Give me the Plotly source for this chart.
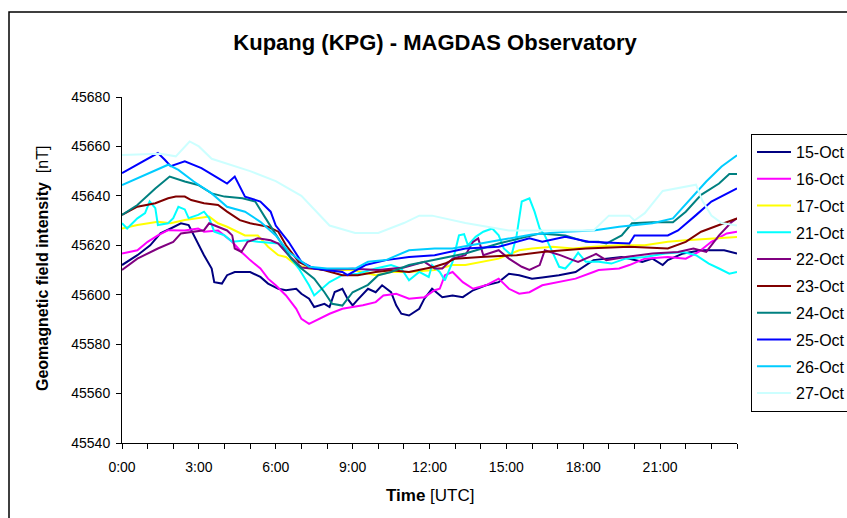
import plotly.graph_objects as go

# Hour-of-day (UTC) and total field (nT) for each observation day
t_15 = [0, 0.6, 1.1, 1.5, 1.9, 2.3, 2.6, 2.8, 3.0, 3.2, 3.5, 3.6, 3.9, 4.1, 4.4, 5.0, 5.4, 5.7, 6.1, 6.4,
        6.8, 7.0, 7.3, 7.5, 7.9, 8.1, 8.3, 8.6, 8.8, 9.0, 9.2, 9.6, 9.9, 10.15, 10.5, 10.7, 10.9, 11.2, 11.6,
        11.8, 12.1, 12.5, 12.9, 13.3, 13.7, 14.2, 14.7, 15.1, 15.5, 16.0, 16.4, 17.05, 17.7, 18.1, 18.4,
        18.9, 19.5, 20.3, 20.7, 21.1, 21.3, 21.9, 22.6, 23.5, 24]
v_15 = [45612, 45616, 45620, 45624.8, 45626.8, 45628.9, 45628.2, 45624, 45620, 45616, 45610.6, 45605.1,
        45604.5, 45607.9, 45609.2, 45609.2, 45607.2, 45604.5, 45602.4, 45601.8, 45602.4, 45600.4, 45598.4,
        45595, 45596.3, 45595, 45601.1, 45602.4, 45598.4, 45595.7, 45598, 45602.4, 45601, 45603.8, 45601,
        45595.7, 45592.3, 45591.6, 45594.3, 45598.4, 45602.4, 45599, 45599.7, 45599, 45601.8, 45603.8,
        45605.1, 45608.5, 45607.9, 45606.5, 45607, 45607.9, 45609.2, 45612, 45614, 45614.6, 45615.3,
        45613.3, 45614.6, 45612, 45614, 45616.7, 45618, 45618, 45616.7]

t_16 = [0, 0.6, 1.0, 1.4, 1.8, 2.45, 2.97, 3.2, 3.75, 4.3, 4.66, 5.0, 5.4, 5.7, 6.0, 6.4, 6.8, 7.0, 7.3,
        7.7, 8.1, 8.6, 9.4, 9.9, 10.2, 10.7, 11.2, 11.8, 12.2, 12.4, 12.6, 12.9, 13.3, 13.7, 14.2, 14.7,
        15.1, 15.5, 15.9, 16.4, 17.05, 17.7, 18.4, 18.6, 19.4, 19.8, 20.4, 21.3, 22.0, 22.5, 23.0, 23.6, 24]
v_16 = [45616.7, 45618, 45621.4, 45624, 45626.1, 45626, 45626.8, 45625.5, 45626, 45621.4, 45617.3, 45614,
        45610.6, 45606.5, 45603.8, 45599.7, 45594.3, 45590.2, 45588.2, 45590.2, 45592.3, 45594.3, 45595.7,
        45597, 45599.7, 45600.4, 45598.4, 45599, 45601.8, 45602.4, 45607.9, 45609.2, 45605.1, 45602.4,
        45603.8, 45606.5, 45602.4, 45600.4, 45601, 45603.8, 45605.1, 45606.5, 45609.2, 45610, 45610.6,
        45612, 45614.6, 45615.3, 45614.6, 45617.3, 45621.4, 45624.8, 45625.5]

t_17 = [0, 0.6, 1.4, 1.9, 2.45, 2.97, 3.4, 3.75, 4.1, 4.8, 5.3, 5.7, 6.1, 6.4, 6.8, 7.3, 8.0, 9.0, 9.9,
        10.5, 11.2, 12.2, 12.9, 13.4, 14.1, 14.7, 15.5, 16.0, 16.8, 17.6, 18.4, 19.4, 20.4, 21.3, 22.0,
        23.3, 24]
v_17 = [45626.8, 45628.2, 45629.5, 45628.9, 45630.2, 45630.9, 45631.6, 45628.9, 45627.5, 45624, 45624,
        45619.4, 45616, 45615.3, 45612, 45610.6, 45610, 45610, 45607.9, 45609.2, 45609.2, 45610, 45612,
        45612, 45613.3, 45614.6, 45618, 45618.7, 45619.4, 45618.7, 45619.4, 45620, 45620, 45621.4, 45622,
        45622.8, 45623.4]

t_21 = [0, 0.2, 0.6, 0.9, 1.08, 1.3, 1.4, 1.8, 2.0, 2.2, 2.45, 2.6, 2.97, 3.2, 3.4, 3.6, 4.0, 4.3, 4.9,
        5.3, 6.1, 6.4, 6.9, 7.3, 7.5, 7.8, 8.1, 8.6, 9.2, 9.9, 10.5, 10.9, 11.2, 11.6, 11.97, 12.1, 12.4,
        12.6, 12.9, 13.15, 13.35, 13.5, 13.8, 14.1, 14.45, 14.7, 14.9, 15.2, 15.4, 15.6, 15.9, 16.1, 16.3,
        16.5, 16.8, 17.06, 17.3, 17.6, 17.8, 18.1, 18.6, 19.1, 19.65, 20.4, 21.2, 21.9, 22.4, 22.9, 23.3,
        23.7, 24]
v_21 = [45628.9, 45626.8, 45630.9, 45633, 45637.7, 45635, 45628.2, 45628.9, 45631, 45635.6, 45634.5,
        45631, 45632.3, 45633.6, 45631, 45625.5, 45624, 45621.4, 45622, 45621.4, 45620.7, 45617.3, 45610.6,
        45603.8, 45599.7, 45602.4, 45605.1, 45607.9, 45608.5, 45610.6, 45612, 45610.6, 45605.8, 45609.2,
        45607.2, 45612, 45609.2, 45605.8, 45613.3, 45624, 45624.5, 45620, 45623.4, 45625.5, 45626.8, 45624,
        45618.7, 45616, 45624, 45637.7, 45639, 45633.6, 45626.8, 45624, 45617.3, 45611.3, 45610.6, 45614,
        45617, 45613.3, 45613.3, 45612.6, 45614.6, 45615.3, 45616.7, 45617.3, 45616, 45612.6, 45610.6,
        45608.5, 45609.2]

t_22 = [0, 0.6, 1.4, 2.0, 2.3, 2.7, 3.2, 3.4, 3.75, 4.1, 4.3, 4.4, 4.66, 4.9, 5.3, 5.8, 6.1, 6.5, 7.0,
        8.0, 9.0, 10.0, 11.0, 11.8, 12.2, 12.5, 12.9, 13.4, 13.7, 13.9, 14.1, 14.7, 15.1, 15.6, 15.9, 16.3,
        16.5, 17.1, 17.6, 17.8, 18.4, 18.5, 18.9, 19.65, 20.7, 21.7, 22.3, 22.8, 23.3, 23.8, 24]
v_22 = [45610, 45614.6, 45618.7, 45621.4, 45624.8, 45625.5, 45626.1, 45628.9, 45627.5, 45626, 45624,
        45618.7, 45617.3, 45621.4, 45622.8, 45622, 45620.7, 45616, 45611, 45610, 45610.5, 45610, 45611,
        45613.3, 45610.6, 45610.6, 45614.6, 45616, 45621.4, 45622.8, 45616, 45618, 45614.6, 45611.3, 45610,
        45612, 45618, 45616, 45614, 45613.3, 45616, 45616.5, 45614, 45615.3, 45616.7, 45617.3, 45618.7,
        45617.3, 45624, 45629.5, 45630.9]

t_23 = [0, 0.6, 1.3, 1.8, 2.1, 2.45, 2.7, 3.2, 3.75, 4.1, 4.6, 5.0, 5.7, 6.1, 6.4, 6.9, 7.3, 7.9, 8.6,
        9.2, 9.9, 10.5, 11.2, 12.2, 12.6, 13.0, 14.0, 15.4, 16.4, 17.3, 18.1, 19.8, 21.3, 22.0, 22.6, 23.3,
        24]
v_23 = [45632.3, 45635.6, 45637, 45639, 45639.7, 45639.7, 45638.3, 45637, 45636.3, 45633.6, 45630.2,
        45628.9, 45627.5, 45625.5, 45620, 45613.3, 45611.3, 45609.9, 45607.9, 45607.9, 45609.2, 45609.9,
        45609.2, 45611.3, 45612.6, 45614.6, 45615.3, 45616, 45617.3, 45618, 45618.7, 45619.4, 45618.7,
        45621.4, 45625.5, 45628.2, 45630.9]

t_24 = [0, 0.6, 1.3, 1.86, 2.45, 2.97, 3.5, 4.0, 4.7, 5.2, 5.6, 6.1, 6.2, 6.6, 7.0, 7.5, 7.9, 8.2, 8.6,
        9.0, 9.4, 9.6, 10.0, 10.5, 11.2, 12.2, 13.4, 14.7, 16.3, 17.3, 18.1, 18.6, 18.9, 19.5, 19.9, 20.7,
        21.5, 22.0, 22.6, 23.3, 23.7, 24]
v_24 = [45632.3, 45636.3, 45643, 45647.8, 45645.8, 45644.4, 45641, 45639.7, 45639, 45637.7, 45631,
        45622.8, 45621.4, 45614.6, 45610.6, 45606.5, 45601, 45596.3, 45595.6, 45601, 45603, 45604, 45607.9,
        45609.2, 45612, 45614, 45616.7, 45620.7, 45624.8, 45624, 45621.4, 45621.4, 45620.7, 45624, 45628.9,
        45629.3, 45629.3, 45633.6, 45640.4, 45645, 45648.8, 45648.8]

t_25 = [0, 1.4, 1.67, 1.9, 2.45, 3.1, 3.75, 4.1, 4.4, 4.8, 5.4, 5.8, 6.0, 6.5, 7.0, 7.5, 8.6, 8.8, 9.5,
        10.3, 11.2, 12.2, 13.4, 14.7, 15.9, 16.4, 17.3, 18.2, 19.8, 20.0, 21.3, 21.7, 22.4, 23.0, 24]
v_25 = [45649.2, 45657.3, 45654.6, 45652, 45654, 45651.2, 45647.2, 45645, 45647.8, 45639.7, 45637.7,
        45633.6, 45628, 45621.4, 45613.3, 45610.6, 45609.2, 45607.9, 45612, 45614, 45615.3, 45616, 45618.7,
        45619.4, 45622.8, 45621.4, 45623.4, 45621.4, 45620.7, 45624, 45624, 45626, 45632.2, 45637.7, 45643]

t_26 = [0, 1.8, 2.2, 2.8, 3.5, 4.1, 4.8, 5.4, 6.0, 6.5, 7.3, 8.0, 9.1, 9.6, 10.3, 11.2, 12.2, 12.9, 14.7,
        16.0, 17.3, 18.4, 19.4, 20.7, 21.5, 22.1, 22.8, 23.4, 24]
v_26 = [45644.4, 45652.6, 45650.5, 45645.8, 45641, 45635.6, 45633.6, 45629.5, 45624, 45617.3, 45611.3,
        45610.6, 45610.6, 45613.3, 45614, 45618, 45618.7, 45618.7, 45622, 45624.4, 45625.5, 45626, 45627.5,
        45628.9, 45630.9, 45637.7, 45645.8, 45651.9, 45656.4]

t_27 = [0, 1.5, 2.1, 2.64, 3.0, 3.5, 5.0, 6.0, 7.0, 8.1, 9.1, 10.0, 11.0, 11.6, 12.1, 13.4, 15.1, 17.6,
        18.4, 19.0, 19.8, 20.0, 20.4, 21.1, 22.4, 22.65, 23.0, 23.4, 24]
v_27 = [45656.5, 45657, 45656, 45662, 45660, 45655, 45650, 45646, 45640, 45628, 45625, 45625, 45629, 45632,
        45632, 45629, 45626, 45626, 45626, 45632, 45632, 45630, 45633, 45642, 45644.5, 45638, 45632, 45629,
        45628]

day_labels = ["15-Oct", "16-Oct", "17-Oct", "21-Oct", "22-Oct", "23-Oct", "24-Oct", "25-Oct", "26-Oct", "27-Oct"]
day_colors = ["#000080", "#FF00FF", "#FFFF00", "#00FFFF", "#800080", "#800000", "#008080", "#0000FF",
              "#00CCFF", "#CCFFFF"]
day_times = [t_15, t_16, t_17, t_21, t_22, t_23, t_24, t_25, t_26, t_27]
day_values = [v_15, v_16, v_17, v_21, v_22, v_23, v_24, v_25, v_26, v_27]

hour_ticks = [0, 3, 6, 9, 12, 15, 18, 21]
hour_labels = ["0:00", "3:00", "6:00", "9:00", "12:00", "15:00", "18:00", "21:00"]

FONT = "Liberation Sans, Arial, sans-serif"

fig = go.Figure()
for lab, col, tx, vy in zip(day_labels, day_colors, day_times, day_values):
    fig.add_trace(go.Scatter(
        x=tx, y=vy, mode="lines", name=lab, legendgroup=lab,
        line=dict(color=col, width=2),
    ))

fig.update_layout(
    width=847, height=518,
    margin=dict(l=122, r=110, t=97, b=75, autoexpand=False),
    paper_bgcolor="white", plot_bgcolor="white",
    font=dict(family=FONT, size=14, color="black"),
    title=dict(text="<b>Kupang (KPG) - MAGDAS Observatory</b>", x=0.5136, xanchor="center",
               xref="container", y=1 - 42 / 518, yref="container", yanchor="middle",
               font=dict(family=FONT, size=22, color="black")),
    showlegend=True,
    legend=dict(x=(751 - 122) / 615, xanchor="left", y=(443 - 134) / 346, yanchor="top",
                bordercolor="black", borderwidth=1, bgcolor="white",
                font=dict(family=FONT, size=16), tracegroupgap=3, itemwidth=34),
    xaxis=dict(range=[0, 24], tickvals=hour_ticks, ticktext=hour_labels, showgrid=False, zeroline=False,
               showline=True, linecolor="black", linewidth=1, ticks="outside", ticklen=5, tickcolor="black",
               minor=dict(dtick=1, tick0=0, ticks="outside", ticklen=5, tickcolor="black", showgrid=False),
               tickfont=dict(family=FONT, size=14), ticklabelstandoff=6),
    yaxis=dict(range=[45540, 45680], dtick=20, tickformat="d", showgrid=False, zeroline=False,
               showline=True, linecolor="black", linewidth=1, ticks="outside", ticklen=5, tickcolor="black",
               tickfont=dict(family=FONT, size=14), ticklabelstandoff=3),
    annotations=[
        dict(text="<b>Time</b> [UTC]", xref="paper", yref="paper", x=0.5, y=(443 - 495) / 346,
             xanchor="center", yanchor="middle", showarrow=False, font=dict(family=FONT, size=17)),
        dict(text="<b>Geomagnetic field intensity</b>\u00a0\u00a0[nT]", xref="paper", yref="paper",
             x=(42 - 122) / 615, y=(443 - 268) / 346, xanchor="center", yanchor="middle", textangle=-90,
             showarrow=False, font=dict(family=FONT, size=16)),
    ],
    shapes=[
        dict(type="rect", xref="paper", yref="paper", x0=(9 - 122) / 615, x1=1.3,
             y0=-0.3, y1=(443 - 12) / 346, line=dict(color="black", width=1.5), layer="below"),
    ],
)

fig.write_html("out.html")
